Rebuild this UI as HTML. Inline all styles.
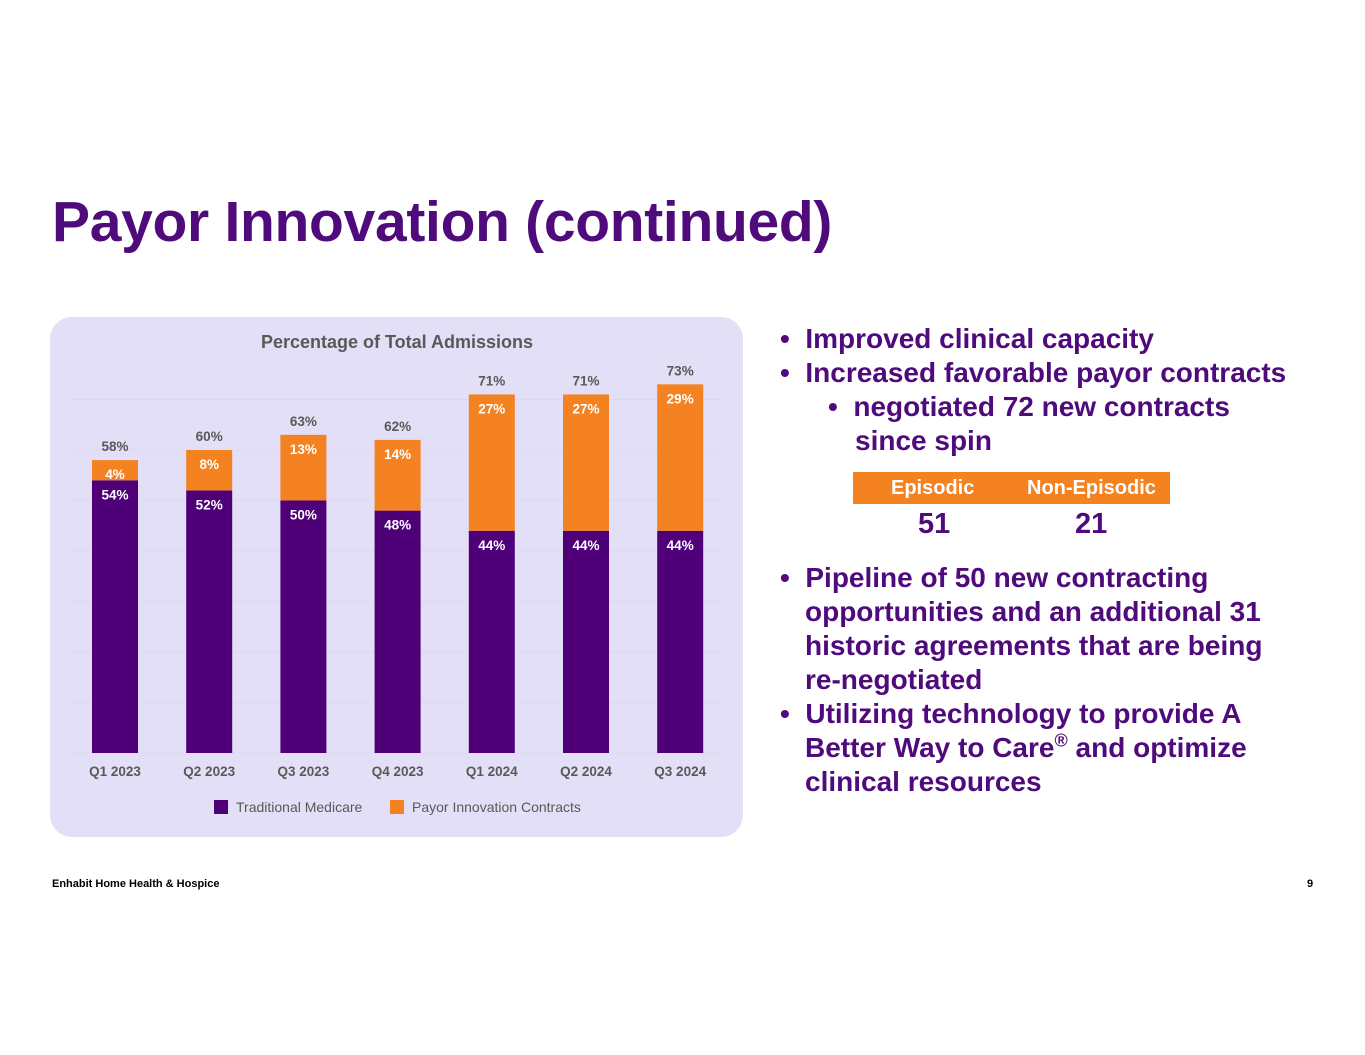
<!DOCTYPE html>
<html><head><meta charset="utf-8"><style>
body{margin:0;width:1365px;height:1055px;background:#fff;font-family:"Liberation Sans",sans-serif;position:relative;overflow:hidden}
.abs{position:absolute}
h1{position:absolute;left:52px;top:189px;margin:0;font-size:57px;font-weight:bold;color:#4f0a7b;letter-spacing:-0.3px}
.bul{position:absolute;color:#4f0a7b;font-weight:bold;font-size:28px;line-height:34px}
.bul div{position:relative}
</style></head><body>
<h1>Payor Innovation (continued)</h1>
<div class="abs" style="left:50px;top:317px;width:693px;height:520px;background:#e2dff6;border-radius:22px"></div>
<svg class="abs" style="left:0;top:0" width="1365" height="1055">
<g id="g"></g>
</svg>
<div class="bul" style="left:780px;top:322px;width:570px">
<div>•&nbsp; Improved clinical capacity</div>
<div>•&nbsp; Increased favorable payor contracts</div>
<div style="padding-left:48px">•&nbsp; negotiated 72 new contracts<br><span style="padding-left:27px">since spin</span></div>
</div>
<div class="abs" style="left:853px;top:472px;width:317px;height:32px;background:#f58220;color:#fff;font-weight:bold;font-size:20px;line-height:32px">
<span class="abs" style="left:38px">Episodic</span><span class="abs" style="left:174px">Non-Episodic</span></div>
<div class="abs" style="left:918px;top:508px;font-size:29px;font-weight:bold;color:#4f0a7b">51</div>
<div class="abs" style="left:1075px;top:508px;font-size:29px;font-weight:bold;color:#4f0a7b">21</div>
<div class="bul" style="left:780px;top:561px;width:570px">
<div>•&nbsp; Pipeline of 50 new contracting<br><span style="padding-left:25px">opportunities and an additional 31</span><br><span style="padding-left:25px">historic agreements that are being</span><br><span style="padding-left:25px">re-negotiated</span></div>
<div>•&nbsp; Utilizing technology to provide A<br><span style="padding-left:25px">Better Way to Care<sup style="font-size:18px;line-height:0">®</sup> and optimize</span><br><span style="padding-left:25px">clinical resources</span></div>
</div>
<div class="abs" style="left:52px;top:878px;font-size:11px;font-weight:bold;color:#000">Enhabit Home Health &amp; Hospice</div>
<div class="abs" style="left:1307px;top:878px;font-size:11px;font-weight:bold;color:#000">9</div>
<script>
const categories=["Q1 2023","Q2 2023","Q3 2023","Q4 2023","Q1 2024","Q2 2024","Q3 2024"];
const traditional=[54,52,50,48,44,44,44];
const payor=[4,8,13,14,27,27,29];
const totals=[58,60,63,62,71,71,73];
const gridTicks=[0,10,20,30,40,50,60,70];
const NS="http://www.w3.org/2000/svg";
const g=document.getElementById('g');
const base=753,scale=5.05,x0=115,step=94.2,bw=46;
const y=v=>base-v*scale, x=i=>x0+i*step;
function mk(t,a,txt){const e=document.createElementNS(NS,t);for(const k in a)e.setAttribute(k,a[k]);if(txt!==undefined)e.textContent=txt;g.appendChild(e);return e;}
gridTicks.forEach(t=>{
 const l=mk('line',{x1:70,x2:720,y1:y(t),y2:y(t),stroke:'#dcd9f2','stroke-width':1});
 
 
});
const tt=mk('text',{x:397,y:348,'text-anchor':'middle','font-size':18,'font-weight':'bold',fill:'#595959','font-family':'Liberation Sans'},'Percentage of Total Admissions');


categories.forEach((c,i)=>{
 const cx=x(i);
 const r1=mk('rect',{x:cx-bw/2,y:y(traditional[i]),width:bw,height:traditional[i]*scale,fill:'#4f0079'});
 
 
 const r2=mk('rect',{x:cx-bw/2,y:y(traditional[i]+payor[i]),width:bw,height:payor[i]*scale,fill:'#f58220'});
 
 
 const a=mk('text',{x:cx,y:y(traditional[i])+19,'text-anchor':'middle','font-size':13.5,'font-weight':'bold',fill:'#fff'},traditional[i]+'%');
 
 
 const b=mk('text',{x:cx,y:y(traditional[i]+payor[i])+19,'text-anchor':'middle','font-size':13.5,'font-weight':'bold',fill:'#fff'},payor[i]+'%');
 
 
 const t=mk('text',{x:cx,y:y(totals[i])-9,'text-anchor':'middle','font-size':13.5,'font-weight':'bold',fill:'#595959'},totals[i]+'%');
 
 
 const xl=mk('text',{x:cx,y:776,'text-anchor':'middle','font-size':13.5,'font-weight':'bold',fill:'#595959'},c);
 
 
});
const l1=mk('rect',{x:214,y:800,width:14,height:14,fill:'#4f0079'});


const l1t=mk('text',{x:236,y:812,'font-size':14,fill:'#595959'},'Traditional Medicare');


const l2=mk('rect',{x:390,y:800,width:14,height:14,fill:'#f58220'});


const l2t=mk('text',{x:412,y:812,'font-size':14,fill:'#595959'},'Payor Innovation Contracts');


</script>
</body></html>
